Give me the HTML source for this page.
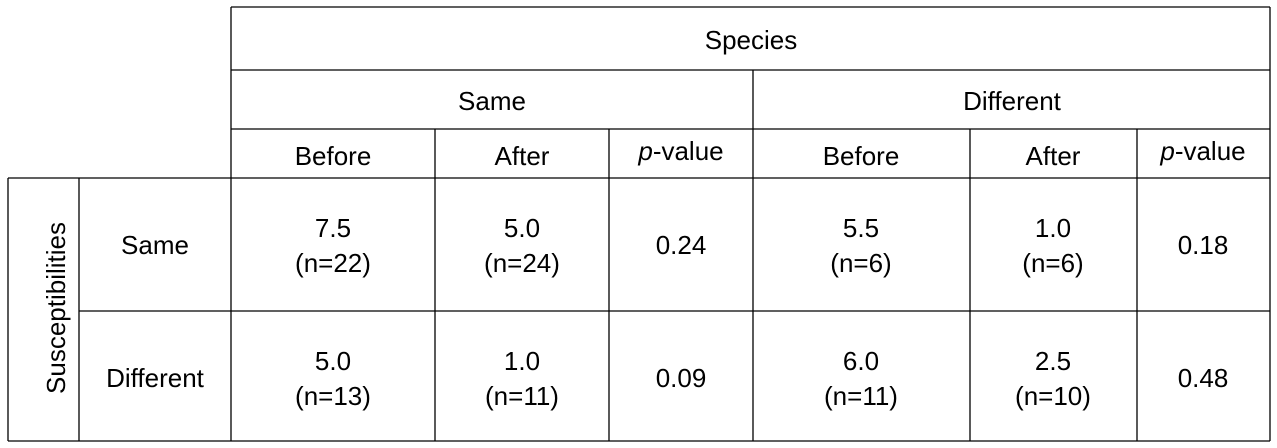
<!DOCTYPE html>
<html><head><meta charset="utf-8"><style>
body{margin:0;background:#fff;width:1277px;height:448px;overflow:hidden}
svg{display:block}
text{font-family:"Liberation Sans",Arial,sans-serif;font-size:26px;fill:#000}
</style></head><body>
<svg width="1277" height="448">
<g stroke="#000" stroke-width="1.3">
<line x1="231" y1="7" x2="1270" y2="7"/>
<line x1="231" y1="70" x2="1270" y2="70"/>
<line x1="231" y1="129" x2="1270" y2="129"/>
<line x1="8" y1="178" x2="1270" y2="178"/>
<line x1="79" y1="311" x2="1270" y2="311"/>
<line x1="8" y1="441" x2="1270" y2="441"/>
<line x1="8" y1="178" x2="8" y2="441"/>
<line x1="79" y1="178" x2="79" y2="441"/>
<line x1="231" y1="7" x2="231" y2="441"/>
<line x1="435" y1="129" x2="435" y2="441"/>
<line x1="609" y1="129" x2="609" y2="441"/>
<line x1="753" y1="70" x2="753" y2="441"/>
<line x1="970" y1="129" x2="970" y2="441"/>
<line x1="1137" y1="129" x2="1137" y2="441"/>
<line x1="1270" y1="7" x2="1270" y2="441"/>
</g>
<g text-anchor="middle">
<text x="751" y="49">Species</text>
<text x="492" y="110">Same</text>
<text x="1012" y="110">Different</text>
<text x="333" y="165">Before</text>
<text x="522" y="165">After</text>
<text x="681" y="160"><tspan font-style="italic">p</tspan>-value</text>
<text x="861" y="165">Before</text>
<text x="1053" y="165">After</text>
<text x="1203" y="160"><tspan font-style="italic">p</tspan>-value</text>
<text transform="translate(65,308) rotate(-90)">Susceptibilities</text>
<text x="155" y="254">Same</text>
<text x="155" y="387">Different</text>

<text x="333" y="237">7.5</text>
<text x="333" y="272">(n=22)</text>
<text x="522" y="237">5.0</text>
<text x="522" y="272">(n=24)</text>
<text x="681" y="254">0.24</text>
<text x="861" y="237">5.5</text>
<text x="861" y="272">(n=6)</text>
<text x="1053" y="237">1.0</text>
<text x="1053" y="272">(n=6)</text>
<text x="1203" y="254">0.18</text>

<text x="333" y="370">5.0</text>
<text x="333" y="405">(n=13)</text>
<text x="522" y="370">1.0</text>
<text x="522" y="405">(n=11)</text>
<text x="681" y="387">0.09</text>
<text x="861" y="370">6.0</text>
<text x="861" y="405">(n=11)</text>
<text x="1053" y="370">2.5</text>
<text x="1053" y="405">(n=10)</text>
<text x="1203" y="387">0.48</text>
</g>
</svg>
</body></html>
